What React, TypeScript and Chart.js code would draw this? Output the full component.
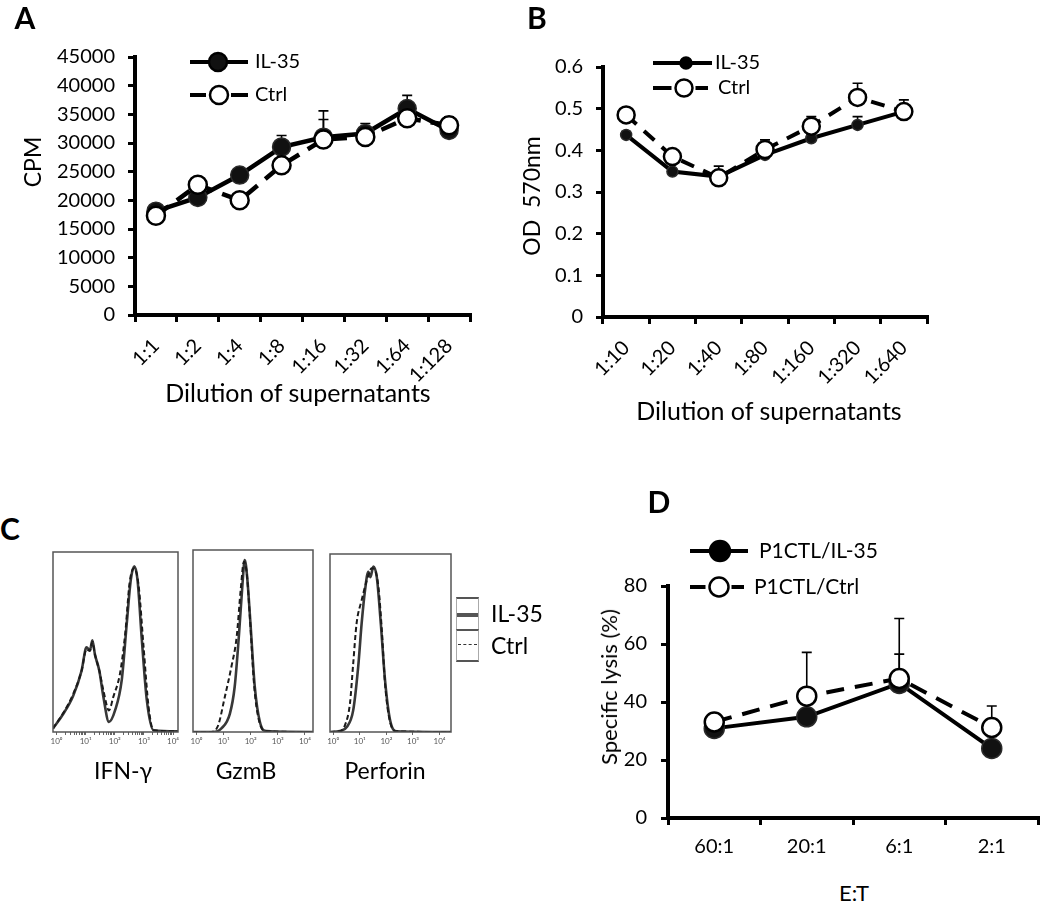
import React, { useEffect, useRef } from "react";
import { Chart, registerables } from "chart.js";
Chart.register(...registerables);

const FONT = "Lato, 'Open Sans', 'DejaVu Sans', sans-serif";

// ---------- Panel A ----------
const aCategories = ["1:1", "1:2", "1:4", "1:8", "1:16", "1:32", "1:64", "1:128"];
const aIL35 = [18100, 20500, 24400, 29300, 31000, 31650, 36000, 32200];
const aCtrl = [17300, 22700, 20000, 26100, 30600, 31060, 34300, 33100];
const aIL35Err = [400, 300, 500, 2000, 4600, 1750, 2300, 500];
const aCtrlErr = [300, 400, 300, 300, 3500, 1870, 500, 1450];

// ---------- Panel B ----------
const bCategories = ["1:10", "1:20", "1:40", "1:80", "1:160", "1:320", "1:640"];
const bIL35 = [0.437, 0.349, 0.337, 0.389, 0.429, 0.461, 0.493];
const bCtrl = [0.485, 0.385, 0.334, 0.402, 0.458, 0.527, 0.493];
const bIL35Err = [0.008, 0.005, 0.005, 0.008, 0.008, 0.02, 0.01];
const bCtrlErr = [0.008, 0.005, 0.028, 0.023, 0.023, 0.034, 0.028];

// ---------- Panel D ----------
const dCategories = ["60:1", "20:1", "6:1", "2:1"];
const dIL35 = [30.9, 34.9, 46.4, 24.0];
const dCtrl = [33.1, 42.0, 48.1, 31.2];
const dIL35Err = [1, 2, 10.1, 4];
const dCtrlErr = [2.5, 15.1, 20.7, 7.4];

// ---------- Panel C (x = log10 intensity, y = % of max) ----------
const ifngIL35 = [[-0.12, 2], [0.23, 10], [0.57, 20], [0.86, 34], [1.03, 47], [1.15, 45.5], [1.23, 51], [1.32, 43], [1.47, 34], [1.61, 19.5], [1.8, 5.6], [2.01, 12], [2.24, 29], [2.41, 60], [2.55, 84.6], [2.67, 92], [2.78, 84.6], [2.93, 51], [3.1, 17.7], [3.33, 1], [4.17, 0.4]];
const ifngCtrl = [[-0.12, 2], [0.23, 10.5], [0.57, 21], [0.86, 34], [1.03, 46], [1.15, 45], [1.23, 50], [1.32, 43], [1.47, 34], [1.61, 23], [1.8, 12], [1.95, 19.5], [2.18, 32.5], [2.36, 55], [2.51, 83], [2.67, 91], [2.82, 81], [2.99, 47], [3.16, 14], [3.33, 1], [4.17, 0.4]];
const gzmbIL35 = [[-0.13, 0], [0.61, 0], [0.92, 2], [1.23, 10], [1.41, 25], [1.57, 54], [1.7, 82], [1.78, 94.5], [1.87, 85], [1.99, 60], [2.15, 25], [2.34, 5.5], [2.58, 0.5], [4.3, 0]];
const gzmbCtrl = [[-0.13, 0], [0.55, 0], [0.8, 3.7], [1.04, 19], [1.29, 36], [1.48, 52], [1.63, 78], [1.75, 93.6], [1.85, 88], [1.97, 63], [2.13, 25], [2.32, 5.5], [2.58, 0.4], [4.3, 0]];
const perfIL35 = [[-0.12, 0], [0.25, 0.5], [0.51, 2.8], [0.75, 12], [0.94, 36.6], [1.07, 61], [1.2, 80], [1.32, 90], [1.4, 87], [1.51, 93], [1.64, 87], [1.79, 61], [1.95, 29], [2.14, 6.6], [2.39, 0.4], [4.43, 0]];
const perfCtrl = [[-0.12, 0], [0.25, 0.5], [0.44, 3.7], [0.63, 16], [0.75, 38], [0.88, 61], [1.07, 74], [1.26, 85], [1.45, 92], [1.57, 91], [1.7, 81.6], [1.83, 57], [1.95, 27], [2.14, 5.6], [2.39, 0.4], [4.43, 0]];
const logTickLabels = ["10\u2070", "10\u00B9", "10\u00B2", "10\u00B3", "10\u2074"];

// ---------- plugins ----------
function errorBarPlugin(errs: (number[] | null)[], capHalf: number) {
  return {
    id: "errorBars",
    beforeDatasetsDraw(chart: any) {
      const ctx = chart.ctx;
      const ys = chart.scales.y;
      ctx.save();
      ctx.strokeStyle = "#000";
      ctx.lineWidth = 1.6;
      chart.data.datasets.forEach((ds: any, i: number) => {
        const err = errs[i];
        if (!err) return;
        const meta = chart.getDatasetMeta(i);
        meta.data.forEach((pt: any, j: number) => {
          const v = ds.data[j] as number;
          const top = ys.getPixelForValue(v + err[j]);
          ctx.beginPath();
          ctx.moveTo(pt.x, pt.y);
          ctx.lineTo(pt.x, top);
          ctx.moveTo(pt.x - capHalf, top);
          ctx.lineTo(pt.x + capHalf, top);
          ctx.stroke();
        });
      });
      ctx.restore();
    },
  };
}

type LegendEntry = { label: string; dashed: boolean; x1: number; x2: number; y: number; mx: number; r: number; fill: string; tx: number; size: number; lw: number };

function legendPlugin(entries: LegendEntry[]) {
  return {
    id: "lineLegend",
    afterDraw(chart: any) {
      const ctx = chart.ctx;
      ctx.save();
      for (const e of entries) {
        ctx.strokeStyle = "#000";
        ctx.lineWidth = e.lw;
        ctx.beginPath();
        if (e.dashed) {
          ctx.moveTo(e.x1, e.y);
          ctx.lineTo(e.mx - e.r - 4, e.y);
          ctx.moveTo(e.mx + e.r + 3, e.y);
          ctx.lineTo(e.x2, e.y);
        } else {
          ctx.moveTo(e.x1, e.y);
          ctx.lineTo(e.x2, e.y);
        }
        ctx.stroke();
        ctx.beginPath();
        ctx.arc(e.mx, e.y, e.r, 0, Math.PI * 2);
        ctx.fillStyle = e.fill;
        ctx.fill();
        ctx.lineWidth = 2.5;
        ctx.stroke();
        ctx.fillStyle = "#000";
        ctx.font = `${e.size}px ${FONT}`;
        ctx.textBaseline = "middle";
        ctx.textAlign = "left";
        ctx.fillText(e.label, e.tx, e.y);
      }
      ctx.restore();
    },
  };
}

const framePlugin = {
  id: "frame",
  afterDatasetsDraw(chart: any) {
    const { ctx, chartArea } = chart;
    ctx.save();
    ctx.strokeStyle = "#555";
    ctx.lineWidth = 1.5;
    ctx.strokeRect(chartArea.left, chartArea.top, chartArea.right - chartArea.left, chartArea.bottom - chartArea.top);
    ctx.restore();
  },
};

// ---------- config builders ----------
function seriesConfig(o: any) {
  return {
    type: "line",
    data: {
      labels: o.labels,
      datasets: [
        { label: "Ctrl", data: o.ctrl, borderColor: "#000", borderWidth: o.lineW, borderDash: o.dash, pointRadius: o.ctrlR, pointBackgroundColor: "#fff", pointBorderColor: "#000", pointBorderWidth: 2.5, fill: false, tension: 0 },
        { label: "IL-35", data: o.il35, borderColor: "#000", borderWidth: o.lineW, pointRadius: o.il35R, pointBackgroundColor: "#111", pointBorderColor: "#2a2a2a", pointBorderWidth: 1.5, fill: false, tension: 0 },
      ],
    },
    options: {
      responsive: false,
      animation: false,
      events: [],
      layout: { padding: { left: 0, top: o.padTop, right: o.padRight, bottom: 0 } },
      plugins: { legend: { display: false }, tooltip: { enabled: false }, title: { display: false } },
      scales: {
        x: {
          type: "category",
          offset: true,
          grid: { offset: true, display: true, drawOnChartArea: false, drawTicks: true, tickLength: 7, color: "#000", lineWidth: 3 },
          border: { display: true, color: "#000", width: 4 },
          ticks: { color: "#000", font: { family: FONT, size: o.xFont }, minRotation: o.rot, maxRotation: o.rot, autoSkip: false, padding: o.xPad },
          afterFit: (s: any) => { s.height = o.xHeight; },
        },
        y: {
          type: "linear",
          min: o.ymin,
          max: o.ymax,
          grid: { display: true, drawOnChartArea: false, drawTicks: true, tickLength: 7, color: "#000", lineWidth: 3 },
          border: { display: true, color: "#000", width: 4 },
          ticks: { stepSize: o.step, color: "#000", font: { family: FONT, size: o.yFont }, padding: o.yPad, callback: (v: any) => String(Math.round(Number(v) * 1000) / 1000) },
          afterFit: (s: any) => { s.width = o.yWidth; },
        },
      },
    },
    plugins: [errorBarPlugin([o.ctrlErr, o.il35Err], 5), legendPlugin(o.legend)],
  };
}

function histConfig(o: any) {
  const majors = [0, 1, 2, 3, 4];
  return {
    type: "line",
    data: {
      datasets: [
        { label: "Ctrl", data: o.ctrl.map((p: number[]) => ({ x: p[0], y: p[1] })), borderColor: "#1a1a1a", borderWidth: 2, borderDash: [5, 3], pointRadius: 0, fill: false, cubicInterpolationMode: "monotone" },
        { label: "IL-35", data: o.il35.map((p: number[]) => ({ x: p[0], y: p[1] })), borderColor: "#383838", borderWidth: 2.6, pointRadius: 0, fill: false, cubicInterpolationMode: "monotone" },
      ],
    },
    options: {
      responsive: false,
      animation: false,
      events: [],
      layout: { padding: { left: o.padLeft, top: o.padTop, right: o.padRight, bottom: 0 } },
      plugins: { legend: { display: false }, tooltip: { enabled: false } },
      scales: {
        x: {
          type: "linear",
          min: o.xmin,
          max: o.xmax,
          afterBuildTicks: (s: any) => {
            const t: any[] = [];
            majors.forEach((m) => {
              t.push({ value: m, major: true });
              if (o.minor && m < 4) for (let k = 2; k <= 9; k++) t.push({ value: m + Math.log10(k) });
            });
            s.ticks = t.filter((tk) => tk.value <= o.xmax).sort((a, b) => a.value - b.value);
          },
          grid: { display: true, drawOnChartArea: false, tickLength: 3, color: "#666", lineWidth: 1 },
          border: { display: false },
          ticks: {
            autoSkip: false,
            maxRotation: 0,
            minRotation: 0,
            color: "#555",
            padding: 2,
            font: { family: FONT, size: 8 },
            callback: (v: any) => {
              const n = Number(v);
              return Math.abs(n - Math.round(n)) < 1e-6 ? logTickLabels[Math.round(n)] : "";
            },
          },
          afterFit: (s: any) => { s.height = o.xHeight; },
        },
        y: { display: false, min: 0, max: 100 },
      },
    },
    plugins: [framePlugin],
  };
}

function ChartCanvas({ left, top, width, height, make }: any) {
  const ref = useRef<HTMLCanvasElement | null>(null);
  useEffect(() => {
    const chart = new Chart(ref.current as HTMLCanvasElement, make());
    return () => chart.destroy();
  }, []);
  return <canvas ref={ref} width={width} height={height} style={{ position: "absolute", left, top, width, height }} />;
}

function Txt({ x, y, size, bold, rotate, left, children }: any) {
  const tf = left ? "translate(0,-50%)" : `translate(-50%,-50%)${rotate ? " rotate(-90deg)" : ""}`;
  return (
    <div style={{ position: "absolute", left: x, top: y, transform: tf, fontFamily: FONT, fontSize: size, fontWeight: bold ? 700 : 400, whiteSpace: "pre", lineHeight: 1, color: "#000" }}>
      {children}
    </div>
  );
}

export default function App() {
  const aMake = () =>
    seriesConfig({
      labels: aCategories, il35: aIL35, ctrl: aCtrl, il35Err: aIL35Err, ctrlErr: aCtrlErr,
      ymin: 0, ymax: 45000, step: 5000, yWidth: 135, padTop: 57, padRight: 30, xHeight: 85,
      il35R: 9, ctrlR: 9, lineW: 4.5, dash: [16, 10], xFont: 20, yFont: 20, xPad: 12, yPad: 13, rot: 45,
      legend: [
        { label: "IL-35", dashed: false, x1: 190, x2: 248, y: 62, mx: 218, r: 9, fill: "#111", tx: 255, size: 20, lw: 4 },
        { label: "Ctrl", dashed: true, x1: 190, x2: 248, y: 95, mx: 219, r: 9, fill: "#fff", tx: 255, size: 20, lw: 4 },
      ],
    });
  const bMake = () =>
    seriesConfig({
      labels: bCategories, il35: bIL35, ctrl: bCtrl, il35Err: bIL35Err, ctrlErr: bCtrlErr,
      ymin: 0, ymax: 0.6, step: 0.1, yWidth: 83, padTop: 67, padRight: 23, xHeight: 83,
      il35R: 5.5, ctrlR: 8.5, lineW: 4, dash: [14, 10], xFont: 20, yFont: 20, xPad: 12, yPad: 13, rot: 45,
      legend: [
        { label: "IL-35", dashed: false, x1: 133, x2: 192, y: 63, mx: 166, r: 5.5, fill: "#000", tx: 195, size: 20, lw: 4 },
        { label: "Ctrl", dashed: true, x1: 133, x2: 188, y: 88, mx: 164, r: 8.5, fill: "#fff", tx: 198, size: 20, lw: 4 },
      ],
    });
  const dMake = () =>
    seriesConfig({
      labels: dCategories, il35: dIL35, ctrl: dCtrl, il35Err: dIL35Err, ctrlErr: dCtrlErr,
      ymin: 0, ymax: 80, step: 20, yWidth: 108, padTop: 146, padRight: 3, xHeight: 47,
      il35R: 10, ctrlR: 9.5, lineW: 4, dash: [18, 11], xFont: 20, yFont: 20, xPad: 10, yPad: 14, rot: 0,
      legend: [
        { label: "P1CTL/IL-35", dashed: false, x1: 130, x2: 188, y: 111, mx: 160, r: 10, fill: "#000", tx: 199, size: 21, lw: 4 },
        { label: "P1CTL/Ctrl", dashed: true, x1: 130, x2: 184, y: 147, mx: 159, r: 9.5, fill: "#fff", tx: 194, size: 21, lw: 4 },
      ],
    });
  const h1 = () => histConfig({ il35: ifngIL35, ctrl: ifngCtrl, xmin: -0.12, xmax: 4.17, padLeft: 8, padTop: 8, padRight: 8, xHeight: 25, minor: true });
  const h2 = () => histConfig({ il35: gzmbIL35, ctrl: gzmbCtrl, xmin: -0.13, xmax: 4.3, padLeft: 6, padTop: 8, padRight: 8, xHeight: 25, minor: false });
  const h3 = () => histConfig({ il35: perfIL35, ctrl: perfCtrl, xmin: -0.12, xmax: 4.43, padLeft: 8, padTop: 8, padRight: 8, xHeight: 25, minor: false });

  return (
    <div style={{ position: "absolute", left: 0, top: 0, width: 1050, height: 901, background: "#fff", overflow: "hidden" }}>
      <ChartCanvas left={0} top={0} width={500} height={400} make={aMake} />
      <ChartCanvas left={520} top={0} width={430} height={400} make={bMake} />
      <ChartCanvas left={560} top={440} width={490} height={425} make={dMake} />
      <ChartCanvas left={45} top={544} width={141} height={213} make={h1} />
      <ChartCanvas left={187} top={542} width={134} height={215} make={h2} />
      <ChartCanvas left={322} top={546} width={137} height={211} make={h3} />

      <Txt x={25} y={17} size={30} bold>A</Txt>
      <Txt x={537} y={17} size={30} bold>B</Txt>
      <Txt x={10} y={528} size={30} bold>C</Txt>
      <Txt x={659} y={501} size={30} bold>D</Txt>

      <Txt x={32} y={162} size={23} rotate>CPM</Txt>
      <Txt x={298} y={392} size={25}>Dilution of supernatants</Txt>
      <Txt x={531} y={196} size={23} rotate>{"OD  570nm"}</Txt>
      <Txt x={769} y={410} size={25}>Dilution of supernatants</Txt>
      <Txt x={609} y={687} size={22} rotate>Specific lysis (%)</Txt>
      <Txt x={854} y={893} size={22}>E:T</Txt>

      <Txt x={123} y={770} size={23}>IFN-γ</Txt>
      <Txt x={246} y={770} size={23}>GzmB</Txt>
      <Txt x={385} y={770} size={23}>Perforin</Txt>

      <div style={{ position: "absolute", left: 456, top: 597, width: 23, height: 32, boxSizing: "border-box", borderTop: "2px solid #555", borderLeft: "1px solid #aaa", borderRight: "1px solid #aaa" }}>
        <div style={{ position: "absolute", left: 0, right: 0, top: 14, height: 4, background: "#555" }} />
      </div>
      <div style={{ position: "absolute", left: 456, top: 629, width: 23, height: 33, boxSizing: "border-box", borderTop: "2px solid #555", borderBottom: "2px solid #555", borderLeft: "1px solid #aaa", borderRight: "1px solid #aaa" }}>
        <div style={{ position: "absolute", left: 1, right: 1, top: 13, height: 0, borderTop: "1.5px dashed #333" }} />
      </div>
      <Txt x={491} y={613} size={23} left>IL-35</Txt>
      <Txt x={491} y={645} size={23} left>Ctrl</Txt>
    </div>
  );
}
